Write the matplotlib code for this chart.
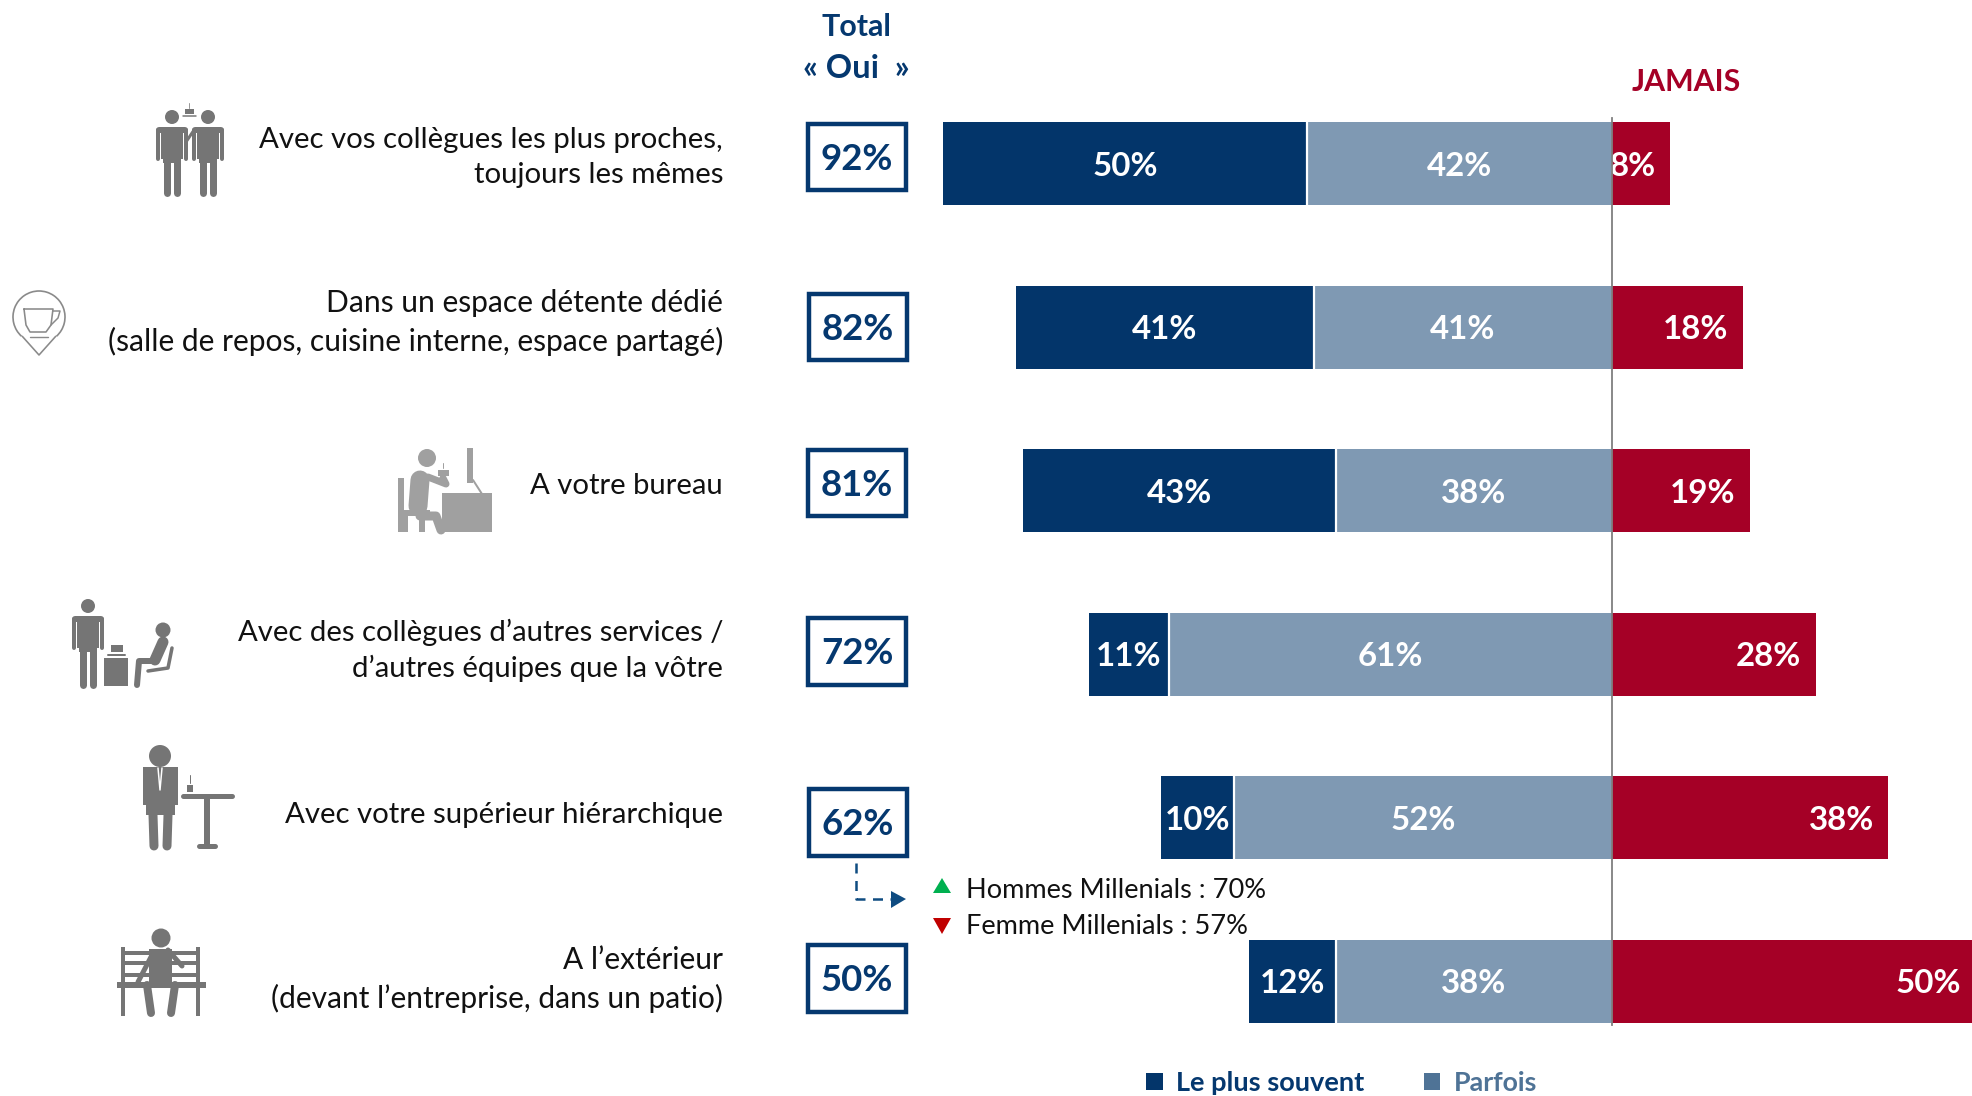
import matplotlib
matplotlib.use("Agg")
import matplotlib.pyplot as plt
from matplotlib.patches import Rectangle, Circle, Polygon, Arc

plt.rcParams['font.family'] = ['Lato', 'DejaVu Sans']

labels = [
    "Avec vos collègues les plus proches,\ntoujours les mêmes",
    "Dans un espace détente dédié\n(salle de repos, cuisine interne, espace partagé)",
    "A votre bureau",
    "Avec des collègues d’autres services /\nd’autres équipes que la vôtre",
    "Avec votre supérieur hiérarchique",
    "A l’extérieur\n(devant l’entreprise, dans un patio)",
]
souvent = [50, 41, 43, 11, 10, 12]
parfois = [42, 41, 38, 61, 52, 38]
jamais = [8, 18, 19, 28, 38, 50]
total_oui = [92, 82, 81, 72, 62, 50]

DARK = "#03356A"
MID = "#7F99B3"
RED = "#A50026"
NAVY = "#05386F"
W, H = 1972, 1096
PX_PER_PCT = 7.27
ROW_PX = 163.5

fig = plt.figure(figsize=(W / 100, H / 100), dpi=100, facecolor="white")

# chart axes: x = percent (0 = zero line), y = row index
ax = fig.add_axes([0, 0, 1, 1])
ax.set_xlim(-1612 / PX_PER_PCT, (W - 1612) / PX_PER_PCT)
ax.set_ylim((H - ROW_PX) / ROW_PX, -1)
ax.axis("off")

rows = list(range(len(labels)))
bar_h = 83 / ROW_PX
left_s = [-(s + p) for s, p in zip(souvent, parfois)]
left_p = [-p for p in parfois]
ax.barh(rows, souvent, left=left_s, height=bar_h, color=DARK, edgecolor="none", zorder=2)
ax.barh(rows, parfois, left=left_p, height=bar_h, color=MID, edgecolor="none", zorder=2)
ax.barh(rows, jamais, left=0, height=bar_h, color=RED, edgecolor="none", zorder=2)
# white separator between the two "oui" segments
ax.vlines(left_p, [r - bar_h / 2 for r in rows], [r + bar_h / 2 for r in rows],
          color="white", lw=1.6, zorder=3)
ax.axvline(0, ymin=1 - 1025 / H, ymax=1 - 118 / H, color="#7F7F7F", lw=1.3, zorder=6)

VAL_FS = 23.8
VAL_DY = -2  # points, downwards
for r, s, p, j, ls, lp in zip(rows, souvent, parfois, jamais, left_s, left_p):
    ax.annotate(f"{s}%", (ls + s / 2, r), xytext=(0, VAL_DY), textcoords="offset points",
                ha="center", va="center", color="white", fontsize=VAL_FS,
                fontweight="bold", zorder=5)
    ax.annotate(f"{p}%", (lp + p / 2, r), xytext=(0, VAL_DY), textcoords="offset points",
                ha="center", va="center", color="white", fontsize=VAL_FS,
                fontweight="bold", zorder=5)
    ax.annotate(f"{j}%", (j, r), xytext=(-10.5, VAL_DY), textcoords="offset points",
                ha="right", va="center", color="white", fontsize=VAL_FS,
                fontweight="bold", zorder=5, annotation_clip=False)

# overlay axes in pixel coordinates for the page furniture
ov = fig.add_axes([0, 0, 1, 1], zorder=5)
ov.set_xlim(0, W)
ov.set_ylim(H, 0)
ov.axis("off")
ov.patch.set_alpha(0)

label_fs = [21.2, 21.6, 21.1, 21.05, 21.2, 21.5]
label_y = [157.5, 322.5, 486, 650.5, 815.5, 979.5]
for y, t, fs in zip(label_y, labels, label_fs):
    ov.text(723, y, t, ha="right", va="center", fontsize=fs, color="#111111",
            linespacing=1.42, multialignment="right")

box_x = [806, 807, 806, 806, 807, 806]
box_y = [122, 292, 448, 616, 787, 943]
box_h = [70, 70, 70, 71, 71, 71]
for x, y, bh, v in zip(box_x, box_y, box_h, total_oui):
    ov.add_patch(Rectangle((x + 2, y + 2), 98, bh - 4, fc="white", ec=NAVY, lw=3.2))
    ov.text(x + 51, y + bh / 2 + 2, f"{v}%", ha="center", va="center", color=NAVY,
            fontsize=26.4, fontweight="bold")

ov.text(856, 27, "Total", ha="center", va="center", color=NAVY, fontsize=21.9, fontweight="bold")
ov.text(856, 69, "« Oui  »", ha="center", va="center", color=NAVY, fontsize=23.5, fontweight="bold")
ov.text(1686, 82, "JAMAIS", ha="center", va="center", color=RED, fontsize=21.8, fontweight="bold")

# dashed callout
ov.plot([856, 856, 893], [863, 899, 899], color="#0F4C81", lw=1.8, ls=(0, (4, 3)))
ov.add_patch(Polygon([[891, 891], [906, 899], [891, 908]], fc="#0F4C81", ec="none"))
ov.add_patch(Polygon([[933, 893], [951, 893], [942, 878]], fc="#00B050", ec="none"))
ov.add_patch(Polygon([[933, 918], [951, 918], [942, 934]], fc="#C00000", ec="none"))
ov.text(966, 891, "Hommes Millenials : 70%", ha="left", va="center", fontsize=19.5, color="#111111")
ov.text(966, 926, "Femme Millenials : 57%", ha="left", va="center", fontsize=19.5, color="#111111")

# legend
ov.add_patch(Rectangle((1146, 1073), 17, 17, fc=DARK, ec="none"))
ov.text(1176, 1083, "Le plus souvent", ha="left", va="center", color=NAVY, fontsize=19.5, fontweight="bold")
ov.add_patch(Rectangle((1424, 1073), 16, 17, fc="#4F7396", ec="none"))
ov.text(1454, 1083, "Parfois", ha="left", va="center", color="#4F7396", fontsize=19.3, fontweight="bold")


# ----- pictograms -----
def line(pts, w, c, cap="round"):
    ov.plot([p[0] for p in pts], [p[1] for p in pts], color=c, lw=w * 0.72,
            solid_capstyle=cap, solid_joinstyle="round")


def disc(x, y, r, c):
    ov.add_patch(Circle((x, y), r, fc=c, ec="none"))


def rect(x0, y0, x1, y1, c):
    ov.add_patch(Rectangle((x0, y0), x1 - x0, y1 - y0, fc=c, ec="none"))


def person(cx, top, foot, c, half=16):
    disc(cx, top - 10, 7, c)
    rect(cx - 11, top + 1, cx + 11, top + 32, c)
    line([(cx - half + 3, top + 3), (cx + half - 3, top + 3)], 6, c)
    line([(cx - half + 2, top + 3), (cx - half + 2, top + 32)], 4, c)
    line([(cx + half - 2, top + 3), (cx + half - 2, top + 32)], 4, c)
    rect(cx - 9, top + 30, cx + 9, top + 36, c)
    line([(cx - 5, top + 34), (cx - 5, foot - 3)], 7, c)
    line([(cx + 5, top + 34), (cx + 5, foot - 3)], 7, c)


G1 = "#757575"
# 1 - two colleagues
person(172, 127, 196, G1)
person(208, 127, 196, G1)
line([(186, 142), (194, 130)], 3, G1)
rect(185, 109, 194, 114, G1)
line([(183, 116), (196, 116)], 1.5, G1)
line([(189, 103), (189, 108)], 1, "#999999")

# 2 - cup in a pin
G2 = "#8A8A8A"
ov.add_patch(Arc((39, 317), 52, 52, theta1=-228, theta2=48, ec=G2, lw=1.2))
line([(22, 336), (39, 355), (56, 336)], 1.6, G2, cap="butt")
line([(24, 309), (26, 325), (30, 332), (46, 332), (51, 325), (53, 309), (24, 309)], 1.6, G2)
line([(53, 311), (60, 311), (58, 318), (51, 325)], 1.5, G2)
line([(30, 337), (48, 337)], 1.4, G2)

# 3 - person at a desk
G3 = "#A0A0A0"
disc(427, 458, 9, G3)
line([(420, 480), (418, 506)], 19, G3)
line([(428, 477), (446, 484), (443, 478)], 7, G3)
line([(420, 516), (436, 516), (441, 530)], 9, G3)
rect(398, 478, 404, 532, G3)
rect(398, 510, 430, 516, G3)
rect(402, 516, 408, 532, G3)
rect(419, 516, 425, 532, G3)
rect(442, 493, 492, 532, G3)
rect(467, 448, 473, 483, G3)
line([(473, 480), (482, 494)], 2, G3)
rect(438, 470, 449, 476, G3)
line([(443, 463), (443, 468)], 1, G3)

# 4 - colleagues around a table
person(88, 616, 688, G1)
rect(104, 658, 128, 686, G1)
line([(108, 655), (125, 655)], 2, G1)
rect(111, 645, 123, 652, G1)
disc(163, 630, 7.5, G1)
line([(163, 642), (155, 660)], 11, G1)
line([(155, 661), (139, 661), (137, 685)], 6, G1)
line([(172, 648), (168, 668), (148, 671)], 3.5, G1)

# 5 - manager at a standing table
disc(160, 756, 11, G1)
rect(143, 767, 178, 805, G1)
rect(146, 805, 175, 815, G1)
line([(153, 815), (154, 846)], 9, G1)
line([(168, 815), (167, 846)], 9, G1)
line([(158, 768), (160, 790), (162, 768)], 1.5, "white")
line([(183, 796), (232, 796)], 5, G1)
rect(204, 796, 210, 846, G1)
line([(199, 846), (215, 846)], 5, G1)
rect(187, 785, 193, 792, G1)
line([(190, 775), (190, 783)], 1, G1)

# 6 - on a bench
disc(161, 938, 9.5, G1)
rect(121, 947, 125, 1016, G1)
rect(196, 947, 200, 1016, G1)
rect(121, 951, 200, 955, G1)
rect(121, 961, 200, 965, G1)
rect(121, 973, 200, 977, G1)
rect(117, 982, 206, 988, G1)
rect(149, 949, 172, 983, G1)
line([(152, 955), (138, 982)], 5, G1)
line([(168, 950), (182, 966)], 5, G1)
line([(147, 985), (151, 1013)], 8, G1)
line([(175, 985), (171, 1013)], 8, G1)

fig.savefig("out.png", dpi=100, facecolor="white")
